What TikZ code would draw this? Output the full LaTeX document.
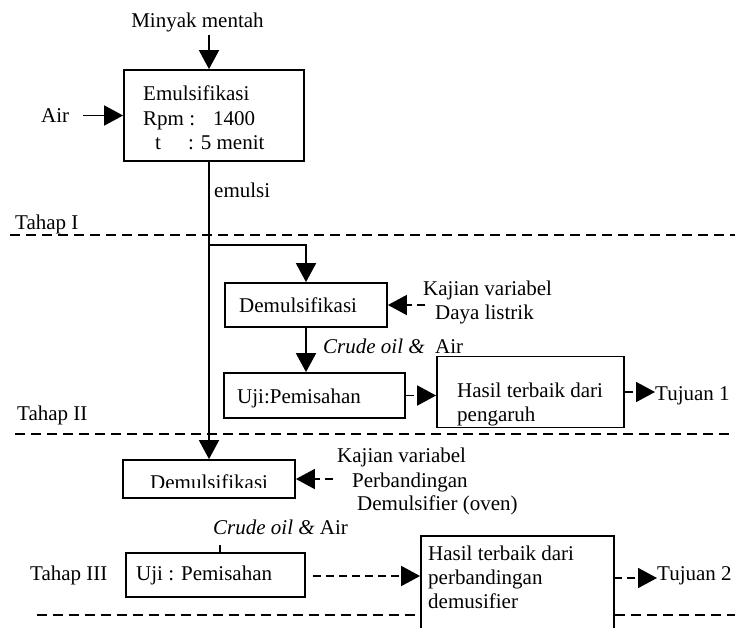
\documentclass[tikz,border=0pt]{standalone}
\usepackage{fontspec}
\setmainfont{Liberation Serif}
\usetikzlibrary{arrows.meta}
\begin{document}
\begin{tikzpicture}[x=1pt,y=-1pt,
  every node/.style={font=\fontsize{21}{25}\selectfont},
  lbl/.style={inner sep=0pt, anchor=base west},
  box/.style={draw, line width=1.8pt, inner sep=0pt},
  ln/.style={line width=1.8pt},
  arr/.style={line width=1.8pt, -{Triangle[length=19pt,width=20pt]}},
  darr/.style={arr, dash pattern=on 8pt off 5pt},
  sep/.style={line width=1.6pt, dash pattern=on 10pt off 6pt}]
\clip (0,0) rectangle (735,627);
\fill[white] (0,0) rectangle (735,627);

% boxes
\node[box, minimum width=180pt, minimum height=91pt] (emul) at (214,115.5) {};
\node[box, minimum width=162pt, minimum height=44pt] (demul1) at (306,305) {};
\node[box, minimum width=181pt, minimum height=45pt] (uji1) at (314.5,395.5) {};
\node[box, minimum width=187pt, minimum height=71pt] (hasil1) at (530.5,392) {};
\node[box, minimum width=172pt, minimum height=38pt] (demul2) at (209,479) {};
\node[box, minimum width=179pt, minimum height=44pt] (uji2) at (215.5,575) {};
\node[box, minimum width=193pt, minimum height=124pt] (hasil2) at (517.5,598) {};

% texts
\node[lbl, anchor=base] (minyak) at (197.5,27) {Minyak mentah};
\node[lbl] (air) at (41,122) {Air};
\node[lbl] (e1) at (143,100) {Emulsifikasi};
\node[lbl] (e2) at (143,125) {Rpm :\hspace{18pt}1400};
\node[lbl] (e3) at (155,149) {t\hspace{27pt}: 5 menit};
\node[lbl] (emulsi) at (214,197) {emulsi};
\node[lbl] (tahap1) at (15,229) {Tahap I};
\node[lbl] (d1) at (239,312) {Demulsifikasi};
\node[lbl] (kv1) at (423,295) {Kajian variabel};
\node[lbl] (dl1) at (435,319) {Daya listrik};
\node[lbl] (co1) at (323,353) {\itshape Crude oil \&\upshape\ \ Air};
\node[lbl] (u1) at (237,403) {Uji:Pemisahan};
\node[lbl] (h1a) at (457,397) {Hasil terbaik dari};
\node[lbl] (h1b) at (457,421) {pengaruh};
\node[lbl] (tuj1) at (655,400) {Tujuan 1};
\node[lbl] (tahap2) at (17,420) {Tahap II};
\begin{scope}
  \clip (120,440) rectangle (300,487);
  \node[lbl] (d2) at (150,489) {Demulsifikasi};
\end{scope}
\node[lbl] (kv2) at (337,462) {Kajian variabel};
\node[lbl] (pb2) at (352,487) {Perbandingan};
\node[lbl] (dm2) at (357,510) {Demulsifier (oven)};
\node[lbl] (co2) at (213,534) {\itshape Crude oil \&\upshape\ Air};
\node[lbl] (tahap3) at (30,580) {Tahap III};
\node[lbl] (u2) at (136,580) {Uji : Pemisahan};
\node[lbl] (h2a) at (428,560) {Hasil terbaik dari};
\node[lbl] (h2b) at (428,584) {perbandingan};
\node[lbl] (h2c) at (428,608) {demusifier};
\node[lbl] (tuj2) at (657,580) {Tujuan 2};

% stage separators
\draw[sep] (10,235) -- (735,235);
\draw[sep] (15,434) -- (735,434);
\draw[sep] (37,615) -- (37,615 -| hasil2.west);
\draw[sep] (hasil2.east |- 0,615) -- (735,615);

% connectors
\coordinate (mtop) at (209,35);
\coordinate (airs) at (83,115.5);
\coordinate (br) at (209,245);
\coordinate (kvs1) at (425,305);
\coordinate (kvs2) at (333,479);
\coordinate (stub) at (220,545);
\coordinate (u2s) at (313,576);
\coordinate (h2s) at (614,578);

\draw[arr] (mtop) -- (mtop |- emul.north);
\draw[arr] (airs) -- (emul.west);
\draw[arr] (mtop |- emul.south) -- (mtop |- demul2.north);
\draw[arr] (br) -| (demul1.north);
\draw[darr] (kvs1) -- (demul1.east);
\draw[arr] (demul1.south) -- (demul1.south |- uji1.north);
\draw[darr] (uji1.east) -- (uji1.east -| hasil1.west);
\draw[darr] (hasil1.east) -- (hasil1.east -| tuj1.west);
\draw[darr] (kvs2) -- (demul2.east);
\draw[ln] (stub) -- (stub |- uji2.north);
\draw[darr] (u2s) -- (u2s -| hasil2.west);
\draw[darr] (h2s) -- (h2s -| tuj2.west);
\end{tikzpicture}
\end{document}
